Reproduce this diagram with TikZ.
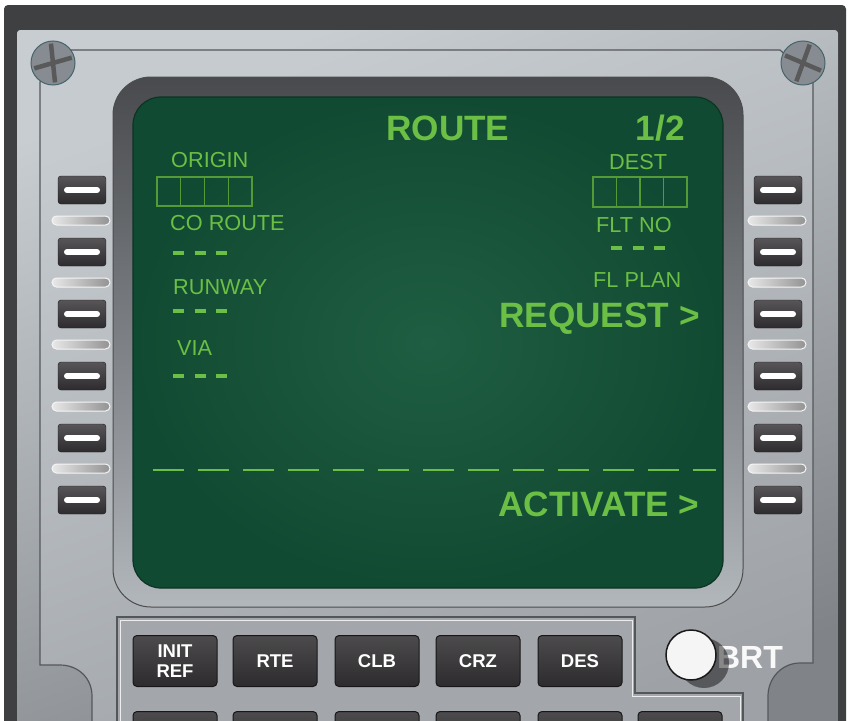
\documentclass[tikz,border=0pt]{standalone}
\usepackage{fontspec}
\setmainfont{Liberation Sans}

\definecolor{lcd}{RGB}{108,191,69}
\definecolor{scrlight}{RGB}{31,94,66}
\definecolor{scrdark}{RGB}{17,74,50}
\definecolor{bezeltop}{RGB}{72,74,77}
\definecolor{bezelbot}{RGB}{178,183,188}
\definecolor{casegray}{RGB}{62,64,66}
\definecolor{platehi}{RGB}{200,205,210}
\definecolor{platelo}{RGB}{128,132,136}
\definecolor{panelhi}{RGB}{198,203,208}
\definecolor{panello}{RGB}{158,162,166}
\definecolor{edgegray}{RGB}{84,87,90}
\definecolor{keyblack}{RGB}{45,43,45}
\definecolor{keyedge}{RGB}{24,23,24}
\definecolor{padgray}{RGB}{163,167,171}
\definecolor{screwgray}{RGB}{134,140,145}
\definecolor{screwedge}{RGB}{70,100,108}

\tikzset{
	lcdtext/.style = {text = lcd, inner sep = 0pt, font = \fontsize{21.7}{22}\selectfont},
	lcdbig/.style = {text = lcd, inner sep = 0pt, font = \bfseries\fontsize{35.2}{36}\selectfont},
	lcdbox/.style = {draw = lcd!80!black, line width = 1.3pt},
	lcddash/.style = {lcd, line width = 4.5pt, dash pattern = on 11pt off 10.5pt},
	sepline/.style = {lcd, line width = 2.8pt, dash pattern = on 31pt off 14pt},
	lskey/.style = {draw = keyedge, top color = keyblack!80!white, bottom color = keyblack, rounded corners = 3pt, minimum width = 48pt, minimum height = 28pt, inner sep = 0pt},
	keybar/.style = {white, line width = 6pt, line cap = round},
	pill/.style = {draw = white!92!gray, line width = 1pt, left color = white!82!gray, right color = gray!85!white, rounded corners = 4.5pt},
	fmckey/.style = {draw = keyedge, line width = 1pt, top color = keyblack!85!white, bottom color = keyblack, rounded corners = 4pt, minimum width = 84pt, minimum height = 51pt, inner sep = 0pt, text = white, align = center, font = \bfseries\fontsize{18.5}{19.5}\selectfont},
	screw/.style = {circle, minimum size = 44pt, inner sep = 0pt, fill = screwgray, draw = screwedge, line width = 1pt},
	slot/.style = {draw = gray!70!black, line width = 4.5pt, shorten <=3pt, shorten >=3pt},
}

\begin{document}
\begin{tikzpicture}[x = 1pt, y = -1pt]
	\clip (0,0) rectangle (850,720);
	\fill[white] (0,0) rectangle (850,720);
	\fill[casegray, rounded corners = 4pt] (4,5) rectangle (846,740);
	\fill[top color = platehi, bottom color = platelo, shading angle = 20, rounded corners = 3pt] (17,30) rectangle (838,740);
	\draw[draw = edgegray, line width = 1.2pt, top color = panelhi, bottom color = panello, shading angle = 20] (40,82) -- (71,50) -- (780,50) -- (813,80) -- (813,663) -- (800,663) .. controls (782,663) and (768,678) .. (768,696) -- (768,740) -- (92,740) -- (92,696) .. controls (92,678) and (78,665) .. (60,665) -- (40,665) -- cycle;

	\node[screw] (screwl) at (53,63) {};
	\node[screw] (screwr) at (803,63) {};
	\draw[slot] (screwl.196) -- (screwl.16);
	\draw[slot] (screwl.96) -- (screwl.276);
	\draw[slot] (screwr.157) -- (screwr.-23);
	\draw[slot] (screwr.70) -- (screwr.250);

	\draw[draw = black!70, line width = 1pt, top color = bezeltop, bottom color = bezelbot, rounded corners = 38pt] (113,77) rectangle (743,607);
	\draw[draw = scrdark!70!black, line width = 1.2pt, inner color = scrlight, outer color = scrdark, rounded corners = 28pt] (133,97) rectangle (723,588);

	\node[lcdbig, anchor = base west] (title) at (386,140) {ROUTE};
	\node[lcdbig, anchor = base east] (page) at (685,140) {1/2};
	\node[lcdtext, anchor = base west] (origin) at (171,167) {ORIGIN};
	\node[lcdtext, anchor = base west] (coroute) at (170,230) {CO ROUTE};
	\node[lcdtext, anchor = base west] (runway) at (173,294) {RUNWAY};
	\node[lcdtext, anchor = base west] (via) at (177,355) {VIA};
	\node[lcdtext, anchor = base west] (dest) at (609,169) {DEST};
	\node[lcdtext, anchor = base west] (fltno) at (596,232) {FLT NO};
	\node[lcdtext, anchor = base west] (flplan) at (593,287) {FL PLAN};
	\node[lcdbig, anchor = base west] (request) at (499,327) {REQUEST >};
	\node[lcdbig, anchor = base west] (activate) at (498,516) {ACTIVATE >};

	\foreach \i in {0,...,3} {
		\draw[lcdbox] ({157 + 23.75*\i},177) rectangle ++(23.75,29);
		\draw[lcdbox] ({593 + 23.5*\i},177) rectangle ++(23.5,30);
	}
	\draw[lcddash] (173,253) -- ++(55,0);
	\draw[lcddash] (173,311) -- ++(55,0);
	\draw[lcddash] (173,376) -- ++(55,0);
	\draw[lcddash] (611,248) -- ++(55,0);
	\draw[sepline] (153,470) -- (716,470);

	\foreach \k in {1,...,6} {
		\node[lskey] (lskl\k) at (82,{128 + 62*\k}) {};
		\node[lskey] (lskr\k) at (778,{128 + 62*\k}) {};
		\draw[keybar] ([xshift = -15pt]lskl\k.center) -- ([xshift = 15pt]lskl\k.center);
		\draw[keybar] ([xshift = -15pt]lskr\k.center) -- ([xshift = 15pt]lskr\k.center);
	}
	\foreach \k in {1,...,5} {
		\draw[pill] (52,{154 + 62*\k}) rectangle (110,{163 + 62*\k});
		\draw[pill] (748,{154 + 62*\k}) rectangle (806,{163 + 62*\k});
	}

	\draw[draw = edgegray, line width = 1.2pt, fill = padgray] (117,740) -- (117,617) -- (635,617) -- (635,693) -- (743,693) -- (743,740);
	\draw[white!85!gray, line width = 1pt] (120,740) -- (120,620) -- (632,620) -- (632,696) -- (740,696) -- (740,740);

	\node[fmckey] (init) at (175,661) {INIT\\REF};
	\node[fmckey] (rte) at (275,661) {RTE};
	\node[fmckey] (clb) at (377,661) {CLB};
	\node[fmckey] (crz) at (478,661) {CRZ};
	\node[fmckey] (des) at (580,661) {DES};
	\foreach \x [count = \n] in {175,275,377,478,580,680}
		\node[fmckey] (lower\n) at (\x,737) {};

	\node[anchor = base east, inner sep = 0pt, text = white!95!gray, font = \bfseries\fontsize{32}{32}\selectfont] (brt) at (783,668) {BRT};
	\fill[black, opacity = 0.45] (704,663) circle (25pt);
	\draw[fill = white!92!gray, draw = black!90, line width = 1.5pt] (691,655) circle (25pt);
\end{tikzpicture}
\end{document}
